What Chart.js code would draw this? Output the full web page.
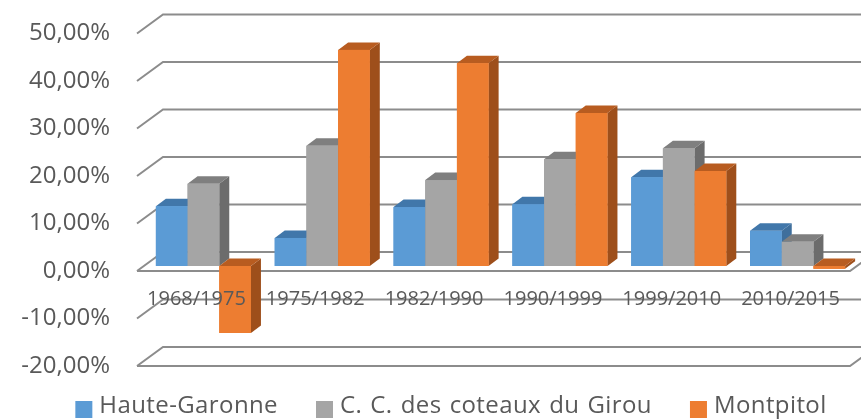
<!DOCTYPE html>
<html>
<head>
<meta charset="utf-8">
<script src="https://cdn.jsdelivr.net/npm/chart.js@4/dist/chart.umd.min.js"></script>
<style>
  html, body { margin: 0; padding: 0; background: #fff; }
  #wrap { width: 861px; height: 419px; }
</style>
</head>
<body>
<div id="wrap"><canvas id="chart" width="861" height="419"></canvas></div>
<script>
// données (variation de population, en %)
const periods = ['1968/1975', '1975/1982', '1982/1990', '1990/1999', '1999/2010', '2010/2015'];
const hauteGaronne = [12.6, 5.9, 12.4, 13.0, 18.7, 7.4];
const coteauxGirou = [17.3, 25.3, 18.1, 22.5, 24.8, 5.1];
const montpitol = [-14.1, 45.5, 42.7, 32.2, 20.0, -0.6];
const seriesNames = ['Haute-Garonne', 'C. C. des coteaux du Girou', 'Montpitol'];
const yMin = -20, yMax = 50, yStep = 10;

// couleurs : face avant, dessus, côté
const faces = [
  { front: '#5b9bd5', top: '#4177aa', side: '#3f6f9c' },
  { front: '#a5a5a5', top: '#7f7f7f', side: '#6c6c6c' },
  { front: '#ed7d31', top: '#b85c20', side: '#9e4f1b' }
];
const textColor = '#595959';
const gridColor = '#8c8c8c';

// effet 3D
const barDx = 10, barDy = -7.5;     // profondeur des barres
const frontDx = -7, frontDy = 5;    // bord avant du plancher / des murs
const backDx = 19, backDy = -14;    // mur du fond

Chart.defaults.font.family = '"Open Sans", sans-serif';
Chart.defaults.color = textColor;

function fmt(v) {
  return v.toFixed(2).replace('.', ',') + '%';
}

const bar3d = {
  id: 'bar3d',
  beforeDatasetsDraw(chart) {
    const ctx = chart.ctx, y = chart.scales.y, area = chart.chartArea;
    const fl = area.left + frontDx, fr = area.right + frontDx;
    const depthX = backDx - frontDx, depthY = backDy - frontDy;
    ctx.save();
    ctx.strokeStyle = gridColor;
    ctx.lineWidth = 2;
    y.ticks.forEach(t => {
      const p = y.getPixelForValue(t.value);
      const yf = p + frontDy, yb = p + backDy;
      ctx.beginPath();
      ctx.moveTo(fl, yf);
      ctx.lineTo(fl + depthX, yb);
      ctx.lineTo(chart.width + 2, yb);
      ctx.stroke();
      if (t.value === 0 || t.value === yMin) {
        ctx.beginPath();
        ctx.moveTo(fl, yf);
        ctx.lineTo(fr, yf);
        ctx.lineTo(fr + depthX, yf + depthY);
        ctx.stroke();
      }
    });
    ctx.restore();
  },
  afterDatasetsDraw(chart) {
    const ctx = chart.ctx;
    const metas = chart.data.datasets.map((d, i) => chart.getDatasetMeta(i));
    ctx.save();
    for (let j = 0; j < periods.length; j++) {
      metas.forEach((meta, i) => {
        const bar = meta.data[j];
        const { x, y, base, width } = bar.getProps(['x', 'y', 'base', 'width'], true);
        const l = x - width / 2, r = x + width / 2;
        const top = Math.min(y, base), bot = Math.max(y, base);
        const c = faces[i];
        ctx.fillStyle = c.side;
        ctx.beginPath();
        ctx.moveTo(r, top);
        ctx.lineTo(r + barDx, top + barDy);
        ctx.lineTo(r + barDx, bot + barDy);
        ctx.lineTo(r, bot);
        ctx.closePath();
        ctx.fill();
        ctx.fillStyle = c.top;
        ctx.beginPath();
        ctx.moveTo(l, top);
        ctx.lineTo(r, top);
        ctx.lineTo(r + barDx, top + barDy);
        ctx.lineTo(l + barDx, top + barDy);
        ctx.closePath();
        ctx.fill();
        ctx.fillStyle = c.front;
        ctx.fillRect(l, top, width, bot - top);
      });
    }

    // étiquettes des périodes
    const xs = chart.scales.x, ys = chart.scales.y;
    ctx.font = '20px "Open Sans"';
    ctx.fillStyle = textColor;
    ctx.textAlign = 'center';
    ctx.textBaseline = 'middle';
    const ly = ys.getPixelForValue(0) + 33;
    periods.forEach((p, j) => {
      ctx.fillText(p, xs.getPixelForValue(j) + frontDx, ly);
    });
    ctx.restore();
  },
  afterDraw(chart) {
    // légende
    const ctx = chart.ctx;
    ctx.save();
    ctx.font = '24px "Open Sans"';
    ctx.letterSpacing = '0.4px';
    ctx.wordSpacing = '1.5px';
    ctx.textBaseline = 'alphabetic';
    ctx.textAlign = 'left';
    const box = 17, gapText = 7, gapItem = 38;
    const widths = chart.data.datasets.map(d => box + gapText + ctx.measureText(d.label).width);
    const total = widths.reduce((a, b) => a + b, 0) + gapItem * (widths.length - 1);
    let x = 451 - total / 2;
    chart.data.datasets.forEach((d, i) => {
      ctx.fillStyle = faces[i].front;
      ctx.fillRect(x, 401, box, box);
      ctx.fillStyle = textColor;
      ctx.fillText(d.label, x + box + gapText, 413);
      x += widths[i] + gapItem;
    });
    ctx.restore();
  }
};

new Chart(document.getElementById('chart'), {
  type: 'bar',
  data: {
    labels: periods,
    datasets: [
      { label: seriesNames[0], data: hauteGaronne, backgroundColor: faces[0].front },
      { label: seriesNames[1], data: coteauxGirou, backgroundColor: faces[1].front },
      { label: seriesNames[2], data: montpitol, backgroundColor: faces[2].front }
    ]
  },
  options: {
    responsive: false,
    animation: false,
    devicePixelRatio: 1,
    layout: { padding: { top: 28.5, bottom: 58, left: 0, right: 4 } },
    datasets: { bar: { categoryPercentage: 0.8, barPercentage: 1.0, borderWidth: 0 } },
    plugins: { legend: { display: false }, tooltip: { enabled: false } },
    scales: {
      x: { display: false },
      y: {
        min: yMin,
        max: yMax,
        afterFit(scale) {
          scale.width = 144;
          scale.paddingTop = 0;
          scale.paddingBottom = 0;
        },
        border: { display: false },
        grid: { display: false, drawTicks: false },
        ticks: {
          stepSize: yStep,
          padding: 34,
          labelOffset: 5,
          color: textColor,
          font: { size: 24 },
          callback: v => fmt(v)
        }
      }
    }
  },
  plugins: [bar3d]
});
</script>
</body>
</html>
